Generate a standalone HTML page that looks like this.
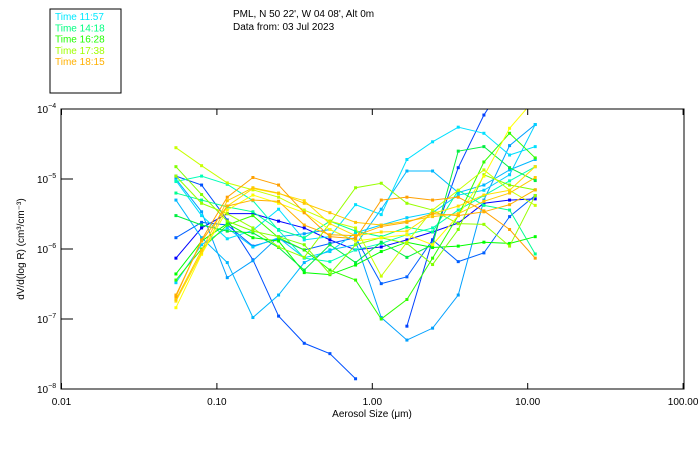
<!DOCTYPE html>
<html><head><meta charset="utf-8"><style>
body{margin:0;background:#fff;}
svg{display:block;font-family:"Liberation Sans",sans-serif;}
</style></head><body>
<svg id="chart" width="700" height="450">
<rect x="50" y="9" width="71" height="84" fill="none" stroke="#000" stroke-width="1"/>
<text x="233" y="17" font-size="10">PML, N 50 22', W 04 08', Alt 0m</text>
<text x="233" y="30" font-size="10">Data from: 03 Jul 2023</text>
<text x="24" y="249" font-size="10" text-anchor="middle" transform="rotate(-90 24 249)">dV/d(log R) (cm³/cm⁻³)</text>
<text x="372" y="417" font-size="10" text-anchor="middle">Aerosol Size (μm)</text>
<defs><clipPath id="pc"><rect x="61" y="109" width="623" height="280"/></clipPath></defs>
<g id="series" clip-path="url(#pc)"></g>
<rect x="61" y="109" width="623" height="280" fill="none" stroke="#000" stroke-width="1"/>
<g id="axes"></g>
</svg>
<script>
const xTickValues=[0.01,0.1,1,10,100];
const xTickLabels=["0.01","0.10","1.00","10.00","100.00"];
const yTickExps=[-4,-5,-6,-7,-8];
const legendLabels=["Time 11:57","Time 14:18","Time 16:28","Time 17:38","Time 18:15"];
const legendColors=["#00e8ff","#00ff80","#20ff00","#a0ff00","#ffb000"];
const sizes=[0.0545,0.0797,0.1166,0.1705,0.2494,0.3648,0.5336,0.7805,1.1417,1.670,2.443,3.573,5.226,7.645,11.18];
const seriesColors=["#0050ff","#0000ff","#0060ff","#0040ff","#00a0ff","#00b8ff","#00e0ff","#00d0ff","#00ff90","#00ffb8","#00ff00","#30ff00","#00ee40","#80ff00","#98ff00","#c8ff00","#ffff00","#ffe000","#ffc800","#ffa000","#ffb000"];
const s1=[1.1e-5,8.2e-6,2.6e-6,7.0e-7,1.1e-7,4.5e-8,3.2e-8,1.4e-8,null,null,null,null,null,null,null];
const s2=[7.4e-7,2.0e-6,3.2e-6,3.2e-6,2.5e-6,2.0e-6,1.35e-6,9.7e-7,1.07e-6,1.35e-6,1.75e-6,2.35e-6,4.5e-6,5.0e-6,5.2e-6];
const s3=[1.45e-6,2.4e-6,2.2e-6,1.1e-6,1.4e-6,9.7e-7,1.2e-6,1.45e-6,3.2e-7,4.0e-7,1.35e-6,6.6e-7,8.8e-7,2.9e-6,5.8e-6];
const s4=[null,null,null,null,null,null,null,null,null,7.9e-8,1.35e-6,1.45e-5,8.2e-5,3.0e-4,6.0e-4];
const s5=[1.0e-5,3.4e-6,3.9e-7,6.8e-7,1.5e-6,1.65e-6,1.9e-6,1.3e-6,1.05e-7,5.0e-8,7.4e-8,2.2e-7,5.0e-6,3.0e-5,6.0e-5];
const s6=[5.0e-6,1.45e-6,6.4e-7,1.05e-7,2.2e-7,6.4e-7,9.7e-7,1.15e-6,3.7e-6,1.3e-5,1.3e-5,6.4e-6,8.2e-6,1.35e-5,1.9e-5];
const s7=[9.5e-6,3.0e-6,1.4e-6,1.85e-6,3.7e-6,1.35e-6,1.5e-6,4.3e-6,3.1e-6,1.9e-5,3.4e-5,5.5e-5,4.5e-5,2.2e-5,2.9e-5];
const s8=[3.3e-7,1.15e-6,2.0e-6,1.07e-6,1.45e-6,7.5e-7,9.2e-7,1.7e-6,2.2e-6,2.8e-6,3.3e-6,5.9e-6,6.9e-6,1.15e-5,6.0e-5];
const s9=[6.3e-6,5.0e-6,4.0e-6,3.4e-6,1.9e-6,1.45e-6,2.5e-6,1.8e-6,1.5e-6,2.05e-6,1.75e-6,6.9e-6,4.2e-6,3.6e-6,8.5e-7];
const s10=[9.2e-6,1.1e-5,8.4e-6,4.9e-6,1.85e-6,7.4e-7,6.6e-7,9.7e-7,1.2e-6,1.6e-6,2.0e-6,3.6e-6,5.8e-6,9.4e-6,1.5e-5];
const s11=[4.4e-7,1.3e-6,2.3e-6,1.45e-6,1.3e-6,4.6e-7,4.3e-7,5.9e-7,9.2e-7,1.25e-6,1.05e-6,1.1e-6,1.25e-6,1.2e-6,1.5e-6];
const s12=[3.6e-7,1.0e-6,2.2e-6,3.0e-6,1.45e-6,9.7e-7,5.0e-7,3.6e-7,1.0e-7,1.9e-7,7.4e-7,3.0e-6,1.75e-5,4.5e-5,2.0e-5];
const s13=[3.0e-6,2.2e-6,1.8e-6,1.7e-6,1.05e-6,5.0e-7,1.15e-6,6.4e-7,1.25e-6,7.6e-7,1.15e-6,2.5e-5,2.9e-5,1.45e-5,9.5e-6];
const s14=[1.5e-5,6.0e-6,2.5e-6,1.8e-6,1.5e-6,1.15e-6,4.4e-7,1.15e-6,1.45e-6,1.2e-6,6.0e-7,1.9e-6,1.15e-5,8.2e-6,7.0e-6];
const s15=[1.1e-5,4.5e-6,3.2e-6,2.0e-6,1.07e-6,7.6e-7,2.35e-6,7.5e-6,8.7e-6,4.5e-6,3.6e-6,2.3e-6,2.25e-6,1.1e-6,5.8e-6];
const s16=[2.8e-5,1.55e-5,8.8e-6,7.0e-6,5.5e-6,3.6e-6,2.5e-6,2.0e-6,4.1e-7,1.25e-6,3.6e-6,6.9e-6,1.35e-5,6.9e-6,4.2e-6];
const s17=[1.45e-7,8.4e-7,3.6e-6,5.9e-6,4.5e-6,3.3e-6,1.9e-6,1.3e-6,1.45e-6,1.6e-6,1.15e-6,3.0e-6,1.1e-5,5.3e-5,1.4e-4];
const s18=[1.8e-7,8.8e-7,4.1e-6,7.3e-6,6.2e-6,4.9e-6,2.3e-6,1.55e-6,1.75e-6,1.8e-6,3.2e-6,4.1e-6,5.9e-6,6.9e-6,1.5e-5];
const s19=[1.9e-7,9.6e-7,4.9e-6,7.5e-6,6.3e-6,4.5e-6,3.3e-6,2.4e-6,2.2e-6,2.5e-6,2.9e-6,3.2e-6,4.8e-6,6.3e-6,1.05e-5];
const s20=[2.1e-7,1.35e-6,5.5e-6,1.05e-5,8.2e-6,3.3e-6,1.5e-6,1.4e-6,5.0e-6,5.5e-6,5.0e-6,5.5e-6,3.5e-6,1.9e-6,7.4e-7];
const s21=[2.2e-7,1.3e-6,4.1e-6,5.0e-6,4.8e-6,2.2e-6,1.6e-6,1.55e-6,2.1e-6,2.4e-6,3.2e-6,3.0e-6,3.4e-6,4.3e-6,7.0e-6];
const allSeries=[s1,s2,s3,s4,s5,s6,s7,s8,s9,s10,s11,s12,s13,s14,s15,s16,s17,s18,s19,s20,s21];

const NS="http://www.w3.org/2000/svg";
const X0=61.5,XPD=155.4,Y0=109,YPD=70;
function xScale(v){return X0+(Math.log10(v)+2)*XPD;}
function yScale(v){return Y0+(-4-Math.log10(v))*YPD;}
function mk(tag,attrs,parent){const e=document.createElementNS(NS,tag);for(const k in attrs)e.setAttribute(k,attrs[k]);parent.appendChild(e);return e;}

const svg=document.getElementById('chart');
const axes=document.getElementById('axes');
xTickValues.forEach((v,i)=>{
  const x=xScale(v);
  const t=mk('line',{x1:x,x2:x,y1:389,y2:383,stroke:'#000'},axes);
  
  
  const t2=mk('line',{x1:x,x2:x,y1:109,y2:115,stroke:'#000'},axes);
  
  
  const l=mk('text',{x:x,y:405,'font-size':10,'text-anchor':'middle'},axes);
  l.textContent=xTickLabels[i];
  
  
});
yTickExps.forEach(e=>{
  const y=yScale(Math.pow(10,e));
  const t=mk('line',{x1:61,x2:73,y1:y,y2:y,stroke:'#000'},axes);
  
  
  const l=mk('text',{x:37,y:y+4,'font-size':10},axes);
  l.textContent='10';
  const s=mk('tspan',{dy:-5,'font-size':7},l);
  s.textContent='−'+(-e);
  
  
});
legendLabels.forEach((txt,i)=>{
  const l=mk('text',{x:55,y:20+i*11.3,'font-size':10,fill:legendColors[i]},svg);
  l.textContent=txt;
  
  
});
const sg=document.getElementById('series');
allSeries.forEach((vals,si)=>{
  const col=seriesColors[si];
  const g=mk('g',{},sg);
  
  
  let pts=[];
  vals.forEach((v,k)=>{if(v!=null)pts.push([xScale(sizes[k]),yScale(v)]);});
  const p=mk('polyline',{points:pts.map(q=>q.join(',')).join(' '),fill:'none',stroke:col,'stroke-width':1},g);
  
  
  pts.forEach(q=>{
    const m=mk('rect',{x:q[0]-1.5,y:q[1]-1.5,width:3,height:3,fill:col},g);
    
    
  });
});
</script>
</body></html>
